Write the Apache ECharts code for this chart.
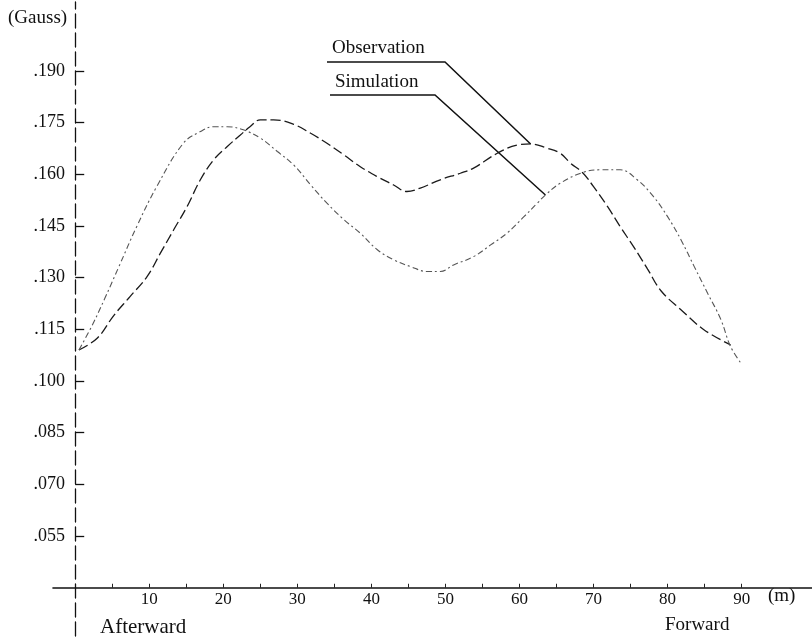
<!DOCTYPE html>
<html><head><meta charset="utf-8">
<script src="https://cdn.jsdelivr.net/npm/echarts@6/dist/echarts.min.js"></script>
<style>html,body{margin:0;padding:0;background:#fff}#c{width:812px;height:643px}</style>
</head><body><div id="c"></div>
<script>
// Observation curve (distance m, field Gauss)
const obsDist  = [0.5, 3.0, 5.2, 7.4, 9.7, 11.5, 13.3, 15.1, 16.9, 18.7, 20.5, 22.3, 23.6, 25.0, 26.8, 29.5, 31.8, 34.0, 36.3, 38.5, 40.8, 43.0, 44.8, 46.6, 49.3, 52.0, 53.8, 57.0, 59.7, 61.5, 63.7, 65.5, 66.9, 68.5, 70.0, 71.9, 73.6, 75.4, 77.3, 79.1, 81.8, 84.9, 88.5];
const obsGauss = [0.109, 0.1125, 0.1190, 0.1245, 0.1303, 0.1371, 0.1439, 0.1506, 0.1584, 0.1642, 0.1680, 0.1714, 0.1738, 0.1758, 0.1758, 0.1745, 0.1719, 0.1690, 0.1656, 0.1622, 0.1593, 0.1569, 0.1550, 0.1560, 0.1584, 0.1603, 0.1618, 0.1661, 0.1685, 0.1688, 0.1676, 0.1661, 0.1632, 0.1605, 0.1564, 0.1506, 0.1448, 0.1390, 0.1325, 0.1262, 0.1207, 0.1149, 0.1105];
// Simulation curve
const simDist  = [0.5, 2.3, 4.0, 5.9, 8.3, 11.0, 14.6, 16.9, 18.7, 20.5, 22.7, 25.0, 27.3, 29.5, 31.8, 34.0, 36.3, 38.5, 40.8, 43.0, 45.3, 47.5, 49.3, 51.1, 53.8, 56.1, 58.3, 60.6, 62.4, 63.5, 65.5, 68.5, 70.9, 73.6, 75.9, 78.1, 80.0, 81.8, 83.6, 85.4, 87.2, 88.5, 89.9];
const simGauss = [0.109, 0.1162, 0.1240, 0.1332, 0.1448, 0.1564, 0.1690, 0.1724, 0.1738, 0.1738, 0.1729, 0.1705, 0.1666, 0.1627, 0.1569, 0.1516, 0.1468, 0.1429, 0.1381, 0.1352, 0.1332, 0.1318, 0.1318, 0.1337, 0.1361, 0.1395, 0.1429, 0.1477, 0.1516, 0.1540, 0.1574, 0.1605, 0.1613, 0.1613, 0.1584, 0.1535, 0.1477, 0.1410, 0.1332, 0.1255, 0.1178, 0.1100, 0.1052];

const seriesNames = ['Observation', 'Simulation'];
const yTickValues = [0.055, 0.070, 0.085, 0.100, 0.115, 0.130, 0.145, 0.160, 0.175, 0.190];
const xLabelValues = [10, 20, 30, 40, 50, 60, 70, 80, 90];
const xTickValues = [5, 10, 15, 20, 25, 30, 35, 40, 45, 50, 55, 60, 65, 70, 75, 80, 85, 90];
const obsPointerDist = 61.5;
const simPointerDist = 63.5;

const X_MIN = -3, X_MAX = 99.5, Y_MIN = 0.026, Y_MAX = 0.21, X_AXIS_AT = 0.04;
const GRID = {left: 53, right: 0, top: 2, bottom: 7};
const H = 643;
const gridH = H - GRID.top - GRID.bottom;
const xOffset = -((X_AXIS_AT - Y_MIN) / (Y_MAX - Y_MIN)) * gridH;

const SERIF = '"Liberation Serif", "DejaVu Serif", serif';
const zip = (a, b) => a.map((v, i) => [v, b[i]]);

const chart = echarts.init(document.getElementById('c'), null, {renderer: 'canvas'});
chart.setOption({
  animation: false,
  backgroundColor: '#fff',
  grid: {left: GRID.left, right: GRID.right, top: GRID.top, bottom: GRID.bottom},
  xAxis: {
    type: 'value', min: X_MIN, max: X_MAX, offset: xOffset,
    axisLine: {show: true, onZero: false, lineStyle: {color: '#111', width: 1.6}},
    axisTick: {show: true, inside: true, length: 4, customValues: xTickValues, lineStyle: {color: '#222', width: 1}},
    axisLabel: {show: true, customValues: xLabelValues, margin: 3, color: '#111', fontFamily: SERIF, fontSize: 17},
    splitLine: {show: false}
  },
  yAxis: {
    type: 'value', min: Y_MIN, max: Y_MAX,
    axisLine: {show: true, onZero: true, lineStyle: {color: '#111', width: 1.3, type: [14, 5]}},
    axisTick: {show: true, inside: true, length: 9, customValues: yTickValues, lineStyle: {color: '#111', width: 1.3}},
    axisLabel: {show: true, customValues: yTickValues, margin: -12, color: '#111', fontFamily: SERIF, fontSize: 18,
      formatter: v => v.toFixed(3).replace(/^0/, '')},
    splitLine: {show: false}
  },
  series: [
    {name: seriesNames[0], type: 'line', data: zip(obsDist, obsGauss), showSymbol: false, smooth: 0.4,
     lineStyle: {color: '#1a1a1a', width: 1.3, type: [10, 4]}},
    {name: seriesNames[1], type: 'line', data: zip(simDist, simGauss), showSymbol: false, smooth: 0.4,
     lineStyle: {color: '#555', width: 1.1, type: [6, 3, 2, 3]}}
  ]
});

const iObs = obsDist.indexOf(obsPointerDist);
const iSim = simDist.indexOf(simPointerDist);
const pObs = chart.convertToPixel({xAxisIndex: 0, yAxisIndex: 0}, [obsDist[iObs], obsGauss[iObs]]);
const pSim = chart.convertToPixel({xAxisIndex: 0, yAxisIndex: 0}, [simDist[iSim], simGauss[iSim]]);

const txt = (text, x, y, size, align) => ({type: 'text', silent: true,
  style: {text, x, y, fill: '#111', font: size + 'px ' + SERIF, align: align || 'left', verticalAlign: 'middle'}});
const line = (pts) => ({type: 'polyline', silent: true, shape: {points: pts}, style: {stroke: '#111', lineWidth: 1.5, fill: null}});

chart.setOption({
  graphic: [
    txt('(Gauss)', 8, 18, 19),
    txt('(m)', 768, 596, 19),
    txt('Afterward', 100, 627, 21),
    txt('Forward', 665, 625, 19),
    txt(seriesNames[0], 332, 48, 19),
    txt(seriesNames[1], 335, 82, 19),
    line([[327, 62], [445, 62], pObs]),
    line([[330, 95], [435, 95], pSim])
  ]
});
</script></body></html>
